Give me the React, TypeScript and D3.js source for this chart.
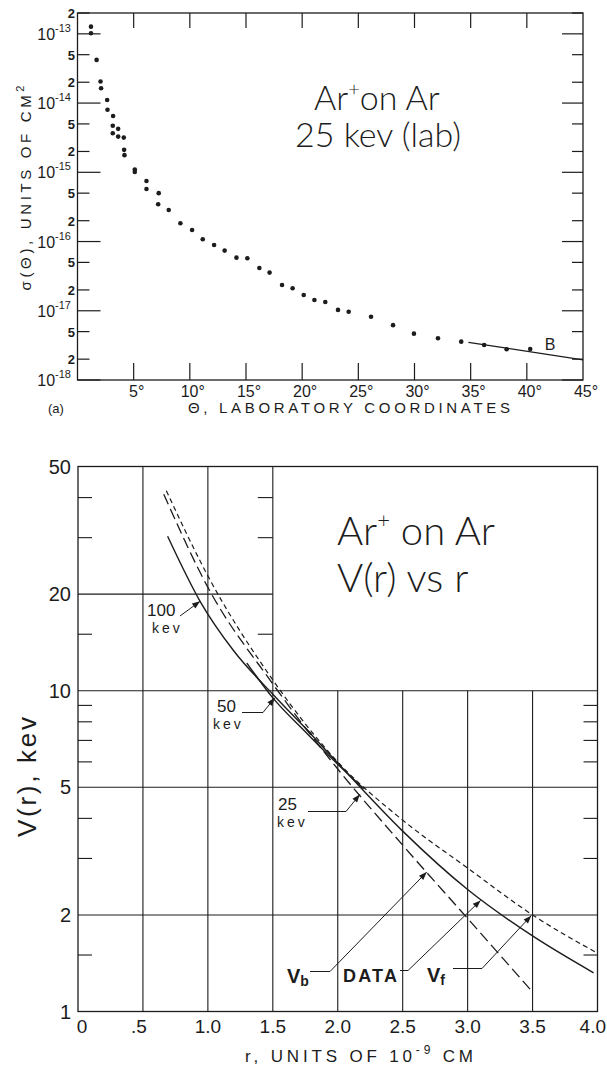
import React from "react";
import * as d3 from "d3";

const W = 607;
const H = 1071;
const INK = "#1c1c1c";

// ---- Panel (a): differential cross section, Ar+ on Ar at 25 kev ----
const thetaDeg = [
  1.2, 1.2, 1.7, 2.05, 2.1, 2.64, 2.67, 3.17, 3.14, 3.14, 3.62, 3.62, 4.12, 4.15, 4.18,
  5.1, 5.1, 6.14, 6.14, 7.23, 7.18, 8.12, 9.16, 10.2, 11.15, 12.16, 13.1, 14.15, 15.12,
  16.19, 17.1, 18.21, 19.15, 20.14, 21.09, 22.06, 23.19, 24.14, 26.13, 28.09, 29.95,
  32.09, 34.16, 36.2, 38.2, 40.3,
];
const sigmaCm2 = [
  1.27e-13, 1.02e-13, 4.2e-14, 2.05e-14, 1.64e-14, 1.11e-14, 8.0e-15, 6.5e-15, 4.7e-15,
  3.67e-15, 4.24e-15, 3.28e-15, 3.17e-15, 2.11e-15, 1.77e-15, 1.1e-15, 1.01e-15, 7.5e-16,
  5.75e-16, 5.0e-16, 3.46e-16, 2.86e-16, 1.84e-16, 1.47e-16, 1.08e-16, 8.9e-17, 7.4e-17,
  5.85e-17, 5.74e-17, 4.15e-17, 3.56e-17, 2.36e-17, 2.11e-17, 1.69e-17, 1.43e-17,
  1.34e-17, 1.03e-17, 9.7e-18, 8.2e-18, 6.2e-18, 4.67e-18, 4.0e-18, 3.58e-18, 3.2e-18,
  2.78e-18, 2.8e-18,
];
const curveBTheta = [34.8, 45];
const curveBSigma = [3.5e-18, 1.95e-18];
const thetaTicks = [5, 10, 15, 20, 25, 30, 35, 40];
const thetaLabelValues = [5, 10, 15, 20, 25, 30, 35, 40, 45];
const sigmaDecades = [1e-18, 1e-17, 1e-16, 1e-15, 1e-14, 1e-13];
const sigmaDecadeExp = ["-18", "-17", "-16", "-15", "-14", "-13"];
const sigmaMinor = [
  2e-18, 5e-18, 2e-17, 5e-17, 2e-16, 5e-16, 2e-15, 5e-15, 2e-14, 5e-14, 2e-13,
];
const sigmaMinorLabels = ["2", "5", "2", "5", "2", "5", "2", "5", "2", "5", "2"];

// ---- Panel (b): V(r) vs r ----
const rTicks = [0, 0.5, 1.0, 1.5, 2.0, 2.5, 3.0, 3.5, 4.0];
const rTickLabels = ["0", ".5", "1.0", "1.5", "2.0", "2.5", "3.0", "3.5", "4.0"];
const vMajor = [1, 2, 5, 10, 20, 50];
const vMajorLabels = ["1", "2", "5", "10", "20", "50"];
const vMinorLow = [1.5, 3, 4, 6, 7, 8, 9];
const vMinorHigh = [15, 30, 40];

const vfR = [0.68, 1.0, 1.5, 2.0, 2.5, 3.0, 3.5, 4.0];
const vfV = [42, 22.8, 10.8, 6.0, 3.95, 2.8, 2.0, 1.52];
const vbR = [0.66, 1.0, 1.5, 2.0, 2.5, 3.0, 3.5];
const vbV = [41, 21.0, 10.5, 5.7, 3.3, 1.95, 1.15];
const data100R = [0.69, 0.94, 1.2, 1.5, 1.8];
const data100V = [30.3, 19.0, 13.3, 9.75, 7.3];
const data50R = [1.3, 1.5, 1.75, 2.0, 2.2];
const data50V = [12.2, 9.5, 7.45, 5.9, 4.95];
const data25R = [1.75, 2.0, 2.5, 3.0, 3.5, 3.97];
const data25V = [7.65, 5.95, 3.65, 2.4, 1.72, 1.32];

// scales
const xA = d3.scaleLinear().domain([0, 45]).range([77.5, 583]);
const yA = d3.scaleLog().domain([1e-18, 2e-13]).range([380, 13]);
const xB = d3.scaleLinear().domain([0, 4]).range([78, 597.5]);
const yB = d3.scaleLog().domain([1, 50]).range([1011.5, 466.5]);

const zip = (a: number[], b: number[]) => a.map((v, i) => [v, b[i]] as [number, number]);

const lineB = d3
  .line<[number, number]>()
  .x((d) => xB(d[0]))
  .y((d) => yB(d[1]))
  .curve(d3.curveMonotoneX);

const lineA = d3
  .line<[number, number]>()
  .x((d) => xA(d[0]))
  .y((d) => yA(d[1]));

function Arrow({ pts }: { pts: [number, number][] }) {
  const n = pts.length;
  const [tx, ty] = pts[n - 1];
  const [px, py] = pts[n - 2];
  const ang = Math.atan2(ty - py, tx - px);
  const L = 8;
  const w = 3;
  const bx = tx - L * Math.cos(ang);
  const by = ty - L * Math.sin(ang);
  const head = [
    [tx, ty],
    [bx + w * Math.sin(ang), by - w * Math.cos(ang)],
    [bx - w * Math.sin(ang), by + w * Math.cos(ang)],
  ];
  return (
    <g>
      <polyline
        points={pts.map((p) => p.join(",")).join(" ")}
        fill="none"
        stroke={INK}
        strokeWidth={1}
      />
      <polygon points={head.map((p) => p.join(",")).join(" ")} fill={INK} />
    </g>
  );
}

export default function App() {
  const font = "'Liberation Sans', Arial, sans-serif";
  const thin = "Lato, 'Open Sans', sans-serif";

  const rSplit = 1.5;
  const arrowTip = (r: number, v: number): [number, number] => [xB(r), yB(v)];

  return (
    <div style={{ position: "absolute", left: 0, top: 0, background: "#fff" }}>
      <svg width={W} height={H} viewBox={`0 0 ${W} ${H}`} style={{ display: "block" }}>
        <rect x={0} y={0} width={W} height={H} fill="#fff" />

        {/* ================= Panel (a) ================= */}
        <g fill={INK} stroke="none" fontFamily={font}>
          <rect
            x={xA(0)}
            y={yA(2e-13)}
            width={xA(45) - xA(0)}
            height={yA(1e-18) - yA(2e-13)}
            fill="none"
            stroke={INK}
            strokeWidth={1.3}
          />
          {thetaTicks.map((t) => (
            <g key={"xt" + t} stroke={INK} strokeWidth={1.2}>
              <line x1={xA(t)} x2={xA(t)} y1={yA(1e-18)} y2={yA(1e-18) - 17} />
              <line x1={xA(t)} x2={xA(t)} y1={yA(2e-13)} y2={yA(2e-13) + 15} />
            </g>
          ))}
          {sigmaDecades.map((s) => (
            <g key={"yd" + s} stroke={INK} strokeWidth={1.2}>
              <line x1={xA(0)} x2={xA(0) + 23} y1={yA(s)} y2={yA(s)} />
              <line x1={xA(45)} x2={xA(45) - 21} y1={yA(s)} y2={yA(s)} />
            </g>
          ))}
          {sigmaMinor.map((s) => (
            <g key={"ym" + s} stroke={INK} strokeWidth={1.2}>
              <line x1={xA(0)} x2={xA(0) + 12} y1={yA(s)} y2={yA(s)} />
              <line x1={xA(45)} x2={xA(45) - 11} y1={yA(s)} y2={yA(s)} />
            </g>
          ))}
          {sigmaDecades.map((s, i) => (
            <text key={"ydl" + s} x={71} y={yA(s) + 6} textAnchor="end" fontSize={16}>
              10
              <tspan fontSize={11} dy={-8}>
                {sigmaDecadeExp[i]}
              </tspan>
            </text>
          ))}
          {sigmaMinor.map((s, i) => (
            <text
              key={"yml" + s}
              x={75}
              y={yA(s) + 5}
              textAnchor="end"
              fontSize={13}
              fontWeight="bold"
            >
              {sigmaMinorLabels[i]}
            </text>
          ))}
          {thetaLabelValues.map((t) => (
            <text key={"xl" + t} x={xA(t) + 3} y={397} textAnchor="middle" fontSize={16}>
              {t + "°"}
            </text>
          ))}

          {/* measured points */}
          {thetaDeg.map((t, i) => (
            <circle key={"p" + i} cx={xA(t)} cy={yA(sigmaCm2[i])} r={2.3} fill={INK} />
          ))}
          <path
            d={lineA(zip(curveBTheta, curveBSigma)) || ""}
            fill="none"
            stroke={INK}
            strokeWidth={1.3}
          />
          <text x={550} y={350} fontSize={16} textAnchor="middle">
            B
          </text>

          {/* annotation */}
          <text x={314} y={110} fontFamily={thin} fontWeight={300} fontSize={34}>
            Ar
            <tspan fontSize={20} dy={-14}>
              +
            </tspan>
            <tspan dy={14}>on Ar</tspan>
          </text>
          <text x={295} y={147} fontFamily={thin} fontWeight={300} fontSize={34}>
            25 kev (lab)
          </text>

          <text
            transform={`translate(31,188) rotate(-90)`}
            textAnchor="middle"
            fontSize={15}
            textLength={205}
            lengthAdjust="spacing"
          >
            σ(Θ), UNITS OF CM
            <tspan fontSize={11} dy={-7}>
              2
            </tspan>
          </text>
          <text x={48} y={413} fontSize={13}>
            (a)
          </text>
          <text x={188} y={413} fontSize={15} textLength={322} lengthAdjust="spacing">
            Θ, LABORATORY COORDINATES
          </text>
        </g>

        {/* ================= Panel (b) ================= */}
        <g fontFamily={font} fill={INK}>
          {/* grid: verticals */}
          {rTicks
            .filter((r) => r > 0 && r < 4)
            .map((r) => (
              <line
                key={"gv" + r}
                x1={xB(r)}
                x2={xB(r)}
                y1={r <= rSplit ? yB(50) : yB(10)}
                y2={yB(1)}
                stroke={INK}
                strokeWidth={1.1}
              />
            ))}
          {/* grid: horizontals */}
          {vMajor
            .filter((v) => v > 1 && v < 50)
            .map((v) => (
              <line
                key={"gh" + v}
                x1={xB(0)}
                x2={v > 10 ? xB(rSplit) : xB(4)}
                y1={yB(v)}
                y2={yB(v)}
                stroke={INK}
                strokeWidth={1.1}
              />
            ))}
          <rect
            x={xB(0)}
            y={yB(50)}
            width={xB(4) - xB(0)}
            height={yB(1) - yB(50)}
            fill="none"
            stroke={INK}
            strokeWidth={1.3}
          />
          {vMinorLow.map((v) => (
            <g key={"ml" + v} stroke={INK} strokeWidth={1.1}>
              <line x1={xB(0)} x2={xB(0) + 14} y1={yB(v)} y2={yB(v)} />
              <line x1={xB(4)} x2={xB(4) - 14} y1={yB(v)} y2={yB(v)} />
            </g>
          ))}
          {vMinorHigh.map((v) => (
            <g key={"mh" + v} stroke={INK} strokeWidth={1.1}>
              <line x1={xB(0)} x2={xB(0) + 14} y1={yB(v)} y2={yB(v)} />
              <line x1={xB(rSplit)} x2={xB(rSplit) - 15} y1={yB(v)} y2={yB(v)} />
            </g>
          ))}
          {vMajor.map((v, i) => (
            <text key={"vl" + v} x={71} y={yB(v) + 7} textAnchor="end" fontSize={20}>
              {vMajorLabels[i]}
            </text>
          ))}
          {rTicks.map((r, i) => (
            <text
              key={"rl" + r}
              x={r === 4 ? 606 : xB(r) + (r === 0 ? 4 : r === 0.5 ? -4 : 0)}
              y={1033}
              textAnchor={r === 4 ? "end" : "middle"}
              fontSize={19}
            >
              {rTickLabels[i]}
            </text>
          ))}

          {/* potential curves */}
          <g fill="none" stroke={INK}>
            <path d={lineB(zip(vfR, vfV)) || ""} strokeWidth={1.2} strokeDasharray="5 3.5" />
            <path d={lineB(zip(vbR, vbV)) || ""} strokeWidth={1.3} strokeDasharray="11 5" />
            <path d={lineB(zip(data100R, data100V)) || ""} strokeWidth={1.4} />
            <path d={lineB(zip(data50R, data50V)) || ""} strokeWidth={1.4} />
            <path d={lineB(zip(data25R, data25V)) || ""} strokeWidth={1.4} />
          </g>

          {/* energy labels */}
          <text x={147} y={616} fontSize={17}>
            100
          </text>
          <text x={152} y={633} fontSize={14} letterSpacing={3}>
            kev
          </text>
          <Arrow pts={[[180, 616], arrowTip(0.94, 19.0)]} />

          <text x={217} y={712} fontSize={17}>
            50
          </text>
          <text x={213} y={729} fontSize={14} letterSpacing={3}>
            kev
          </text>
          <Arrow pts={[[242, 712.5], [263, 712.5], arrowTip(1.515, 9.5)]} />

          <text x={278} y={810} fontSize={17}>
            25
          </text>
          <text x={277} y={827} fontSize={14} letterSpacing={3}>
            kev
          </text>
          <Arrow pts={[[308, 811.5], [346, 811.5], arrowTip(2.17, 4.75)]} />

          <text x={287} y={983} fontSize={20} fontWeight="bold">
            V
            <tspan fontSize={14} dy={3}>
              b
            </tspan>
          </text>
          <Arrow pts={[[310, 971.5], [330, 971.5], arrowTip(2.685, 2.72)]} />

          <text x={343} y={982} fontSize={18} fontWeight="bold" textLength={54}>
            DATA
          </text>
          <Arrow pts={[[400, 970.5], [408, 970.5], arrowTip(3.1, 2.22)]} />

          <text x={427} y={982} fontSize={20} fontWeight="bold">
            V
            <tspan fontSize={14} dy={3}>
              f
            </tspan>
          </text>
          <Arrow pts={[[453, 968.5], [482, 968.5], arrowTip(3.49, 1.99)]} />

          {/* title */}
          <text x={337} y={545} fontFamily={thin} fontWeight={300} fontSize={40}>
            Ar
            <tspan fontSize={22} dy={-17}>
              +
            </tspan>
            <tspan dy={17}> on Ar</tspan>
          </text>
          <text x={337} y={592} fontFamily={thin} fontWeight={300} fontSize={40}>
            V(r) vs r
          </text>

          <text
            transform={`translate(36,777) rotate(-90)`}
            textAnchor="middle"
            fontSize={26}
            textLength={120}
            lengthAdjust="spacing"
          >
            V(r), kev
          </text>
          <text x={245} y={1062} fontSize={17} textLength={228} lengthAdjust="spacing">
            r, UNITS OF 10
            <tspan fontSize={12} dy={-8}>
              -9
            </tspan>
            <tspan dy={8}> CM</tspan>
          </text>
        </g>
      </svg>
    </div>
  );
}
